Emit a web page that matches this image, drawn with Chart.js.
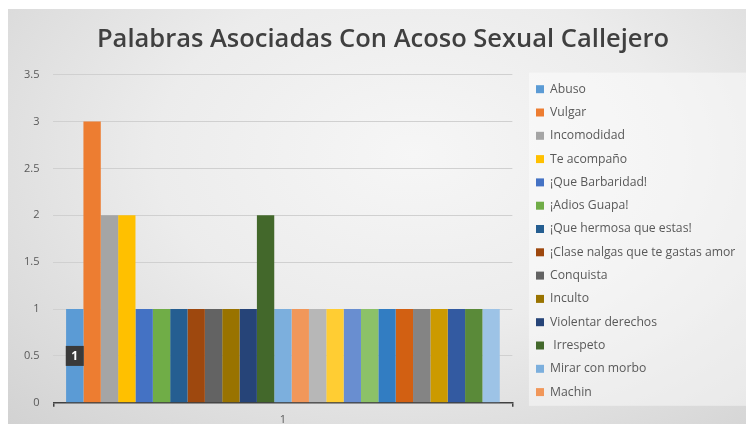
<!DOCTYPE html>
<html>
<head>
<meta charset="utf-8">
<script src="https://cdn.jsdelivr.net/npm/chart.js@4/dist/chart.umd.min.js"></script>
<style>
  body { margin: 0; background: #fff; width: 746px; height: 424px; overflow: hidden; }
  #wrap {
    position: absolute; left: 8px; top: 9px; width: 738px; height: 415px;
    background: radial-gradient(ellipse at 55% 35%, #f6f6f6 0%, #ececec 45%, #d2d2d2 100%);
  }
</style>
</head>
<body>
<div id="wrap"><canvas id="canvas_chart" width="738" height="415"></canvas></div>
<script>
// datos
const categorias = ["1"];
const palabras = ["Abuso", "Vulgar", "Incomodidad", "Te acompaño", "¡Que Barbaridad!", "¡Adios Guapa!",
  "¡Que hermosa que estas!", "¡Clase nalgas que te gastas amor!", "Conquista", "Inculto",
  "Violentar derechos", " Irrespeto", "Mirar con morbo", "Machin",
  "Serie 15", "Serie 16", "Serie 17", "Serie 18", "Serie 19", "Serie 20",
  "Serie 21", "Serie 22", "Serie 23", "Serie 24", "Serie 25"];
const valores = [1, 3, 2, 2, 1, 1, 1, 1, 1, 1, 1, 2, 1, 1, 1, 1, 1, 1, 1, 1, 1, 1, 1, 1, 1];
const colores = ["#5B9BD5", "#ED7D31", "#A5A5A5", "#FFC000", "#4472C4", "#70AD47", "#255E91", "#9E480E",
  "#636363", "#997300", "#264478", "#43682B", "#7CAFDD", "#F1975A", "#B7B7B7", "#FFCD33",
  "#698ED0", "#8CC168", "#327DC2", "#D26012", "#848484", "#CC9A00", "#335AA1", "#5A8A39", "#9DC3E6"];
const ticksY = [0, 0.5, 1, 1.5, 2, 2.5, 3, 3.5];
const leyendaVisible = 14;

// separa la leyenda del area del grafico y centra el titulo
const moverLeyenda = {
  id: 'moverLeyenda',
  afterLayout(chart) {
    chart.legend.left = chart.chartArea.right + 12.5;
    chart.titleBlock.left += 10;
    chart.titleBlock.right += 10;
  }
};

const fondoLeyenda = {
  id: 'fondoLeyenda',
  beforeDraw(chart) {
    const l = chart.legend, c = chart.ctx;
    c.save();
    c.fillStyle = 'rgba(255,255,255,0.45)';
    c.fillRect(l.left + 4, chart.chartArea.top - 2, chart.width - l.left - 4, chart.chartArea.bottom - chart.chartArea.top + 5);
    c.restore();
  }
};

const etiqueta = {
  id: 'etiqueta',
  afterDatasetsDraw(chart) {
    const bar = chart.getDatasetMeta(0).data[0];
    const y = chart.scales.y.getPixelForValue(0.5);
    const c = chart.ctx;
    c.save();
    c.fillStyle = '#3a3a3a';
    c.fillRect(bar.x - 9, y - 10, 18, 20);
    c.fillStyle = '#fff';
    c.font = 'bold 12px "Open Sans"';
    c.textAlign = 'center';
    c.textBaseline = 'middle';
    c.fillText('1', bar.x, y + 1);
    c.restore();
  }
};

const getCanvas = document.getElementById('canvas_chart');
let configChart = {
  type: 'bar',
  data: {
    labels: categorias,
    datasets: palabras.map((p, i) => ({
      label: p,
      data: [valores[i]],
      backgroundColor: colores[i],
      barPercentage: 1,
      categoryPercentage: 0.945
    }))
  },
  options: {
    responsive: false,
    animation: false,
    layout: { padding: { left: 2, right: 10, bottom: -8 } },
    plugins: {
      title: {
        display: true,
        text: 'Palabras Asociadas Con Acoso Sexual Callejero',
        color: '#404040',
        font: { family: 'Open Sans', size: 25.5, weight: '600' },
        padding: { top: 15, bottom: 20 }
      },
      legend: {
        position: 'right',
        align: 'start',
        fullSize: true,
        maxWidth: 239,
        title: { display: true, text: ' ', font: { size: 10 }, padding: { top: 0, bottom: 51 } },
        labels: {
          boxWidth: 8, boxHeight: 8, padding: 11.1,
          color: '#595959',
          font: { family: 'Open Sans', size: 12.2 },
          filter: item => item.datasetIndex < leyendaVisible
        }
      },
      tooltip: { enabled: false }
    },
    scales: {
      x: {
        grid: { display: true, drawOnChartArea: false, color: '#404040', tickLength: 4, lineWidth: 1.5 },
        border: { color: '#404040', width: 1.5 },
        ticks: { color: '#595959', font: { family: 'Open Sans', size: 11 }, padding: 6 }
      },
      y: {
        min: 0, max: 3.5,
        afterBuildTicks: axis => { axis.ticks = ticksY.map(v => ({ value: v })); },
        grid: { color: '#d0d0d0', drawTicks: false },
        border: { display: false },
        ticks: { color: '#595959', font: { family: 'Open Sans', size: 11 }, padding: 14,
          callback: v => String(v) }
      }
    }
  },
  plugins: [moverLeyenda, fondoLeyenda, etiqueta]
};
const canvas_chart = new Chart(getCanvas, configChart);
</script>
</body>
</html>
